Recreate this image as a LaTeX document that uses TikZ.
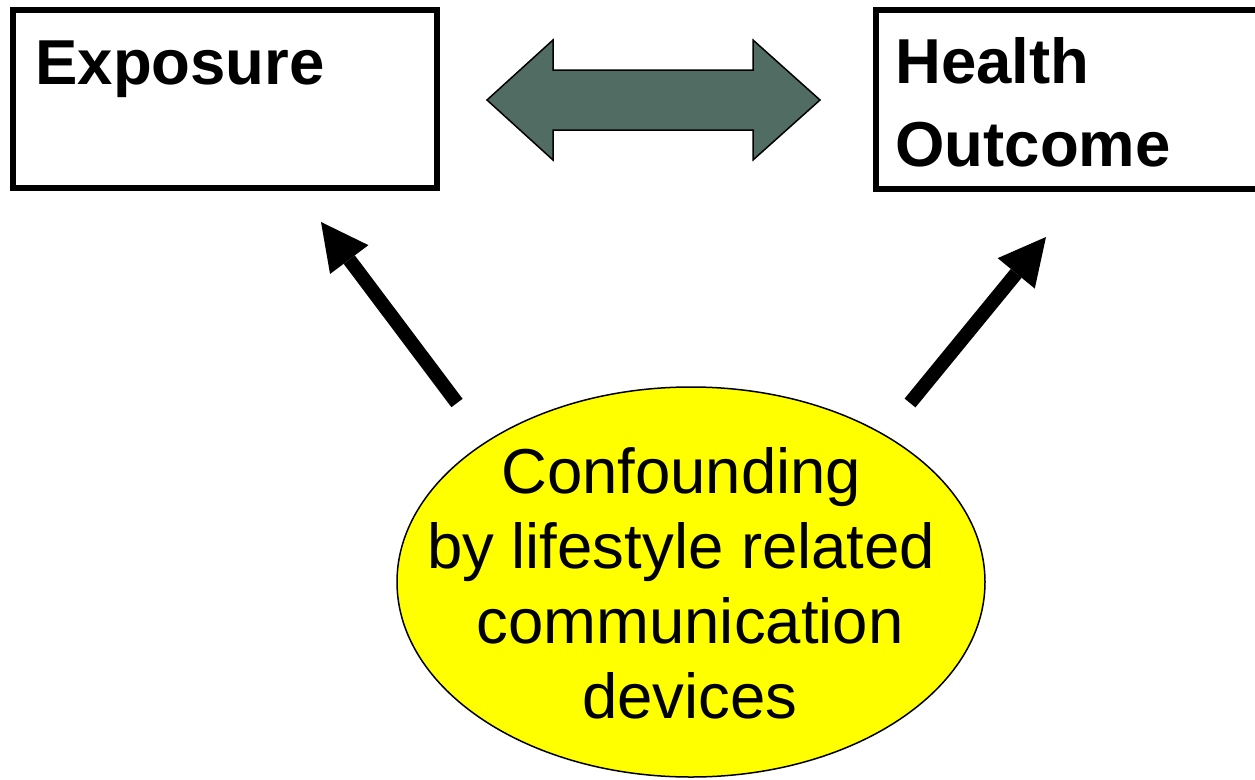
\documentclass[tikz,border=0pt]{standalone}
\usepackage{fontspec}
\setmainfont{Liberation Sans}
\usetikzlibrary{arrows.meta,shapes.geometric}
\definecolor{linkgreen}{RGB}{81,108,98}
\definecolor{confyellow}{RGB}{255,255,0}
\tikzset{
  box/.style={draw, line width=6pt, fill=white, anchor=north west,
    outer sep=0pt, inner ysep=0pt, align=left,
    font=\bfseries\fontsize{63.5}{83}\selectfont},
  causal/.style={line width=14pt,
    -{Triangle[length=47pt,width=48pt,line width=0pt]}},
  blockarrow/.style={draw=black, line width=1.5pt, fill=linkgreen, line join=miter},
  confounder/.style={ellipse, draw, line width=1.5pt, fill=confyellow,
    minimum width=588pt, minimum height=390pt, inner sep=0pt},
  conflabel/.style={anchor=base, inner sep=0pt,
    font=\fontsize{63.5}{75}\selectfont}
}
\begin{document}
\begin{tikzpicture}[x=1pt,y=-1pt]
  \useasboundingbox (0,0) rectangle (1255,779);

  % the two variables
  \node[box, inner xsep=22.4pt, text width=379.2pt,
        text height=74pt, text depth=104pt] (expo) at (13,10) {Exposure};
  \node[box, inner xsep=20pt, text width=360pt,
        text height=73pt, text depth=105.5pt] (health) at (875.5,10)
        {\parbox[t]{360pt}{Health\\Outcome}};

  % association between exposure and outcome
  \draw[blockarrow] (487,100) -- (553,40) -- (553,70) -- (753,70) -- (753,40)
        -- (820,100) -- (753,160) -- (753,130) -- (553,130) -- (553,160) -- cycle;

  % the confounder
  \node[confounder] (conf) at (691,582) {};
  \node[conflabel] (conftxt) at (690,493)
    {\parbox[t]{580pt}{\centering Confounding\kern17.5pt\\
      by lifestyle related\kern17.5pt\\ communication\\ devices}};

  % confounding paths
  \coordinate (tailL) at (457,403);
  \coordinate (tipL) at (321,222);
  \coordinate (tailR) at (910,403);
  \coordinate (tipR) at (1046,237);
  \draw[causal] (tailL) -- (tipL);
  \draw[causal] (tailR) -- (tipR);
\end{tikzpicture}
\end{document}
